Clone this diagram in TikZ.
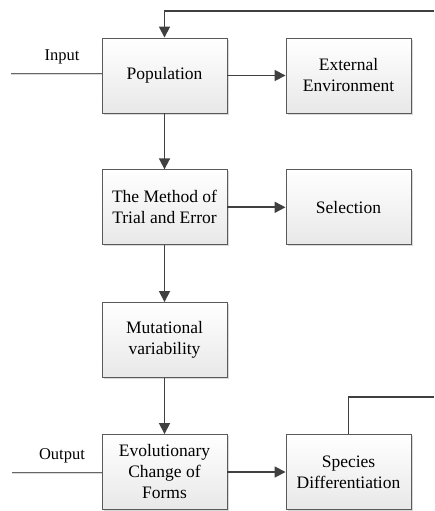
\documentclass[tikz,border=0pt]{standalone}
\usepackage{fontspec}
\setmainfont{Liberation Serif}
\usetikzlibrary{arrows.meta,shadows}
\definecolor{edge}{HTML}{5A5A5A}
\definecolor{arr}{HTML}{404040}
\tikzset{
  box/.style={draw=edge, line width=0.9pt, minimum width=125pt, minimum height=75pt,
    top color=white, bottom color=black!9, align=center, inner sep=2pt,
    font=\fontsize{17.5}{21}\selectfont,
    drop shadow={shadow xshift=1.6pt, shadow yshift=-1.6pt, fill=black!25, opacity=0.6}},
  conn/.style={draw=arr, line width=1.7pt, -{Triangle[length=11pt,width=11pt]}},
  plain/.style={draw=arr, line width=1.7pt},
  ioline/.style={draw=black!60, line width=0.9pt},
  ioshadow/.style={draw=black!15, line width=0.9pt},
  iolabel/.style={font=\fontsize{16.5}{20}\selectfont}
}
\begin{document}
\begin{tikzpicture}[x=1pt,y=-1pt]
\useasboundingbox (0,0) rectangle (434,511);
\node[box] (pop)  at (164.5,75.5)  {Population};
\node[box] (ext)  at (348.5,75.5)  {External\\Environment};
\node[box] (meth) at (164.5,207.3) {The Method of\\Trial and Error};
\node[box] (sel)  at (348.5,207.3) {Selection};
\node[box] (mut)  at (164.5,340)   {Mutational\\variability};
\node[box] (evo)  at (164.5,472)   {Evolutionary\\Change of\\Forms};
\node[box] (spe)  at (348.5,472)   {Species\\Differentiation};

\coordinate (fbR) at (434,11);
\coordinate (spR) at (434,397.3);
\coordinate (inL) at (11,73);
\coordinate (outL) at (12,472.5);

\node[iolabel] (inlab) at (62,57) {Input};
\node[iolabel] (outlab) at (62,456) {Output};

\draw[conn] (fbR) -- (fbR -| pop.north) -- (pop.north);
\draw[conn] (pop) -- (ext);
\draw[conn] (pop) -- (meth);
\draw[conn] (meth) -- (sel);
\draw[conn] (meth) -- (mut);
\draw[conn] (mut) -- (evo);
\draw[conn] (evo) -- (spe);
\draw[plain] (spe.north) -- (spe.north |- spR) -- (spR);

\draw[ioshadow] ([yshift=-1.1pt]inL) -- ([yshift=-1.1pt]inL -| pop.west);
\draw[ioline] (inL) -- (inL -| pop.west);
\draw[ioshadow] ([yshift=-1.1pt]outL) -- ([yshift=-1.1pt]outL -| evo.west);
\draw[ioline] (outL) -- (outL -| evo.west);
\end{tikzpicture}
\end{document}
